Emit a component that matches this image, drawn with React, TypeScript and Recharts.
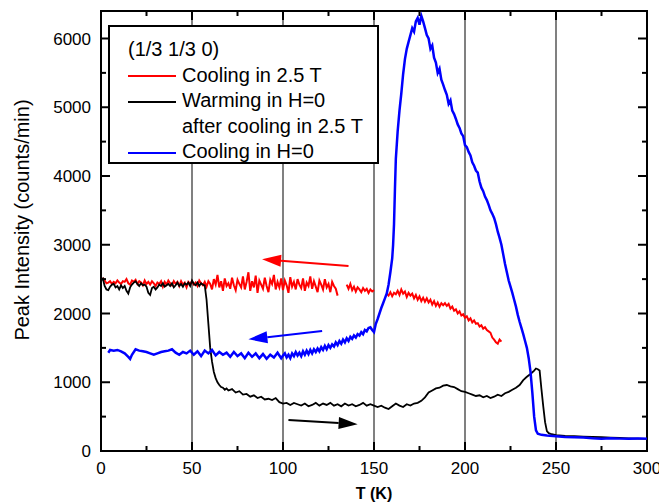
import React from "react";
import {
  LineChart,
  Line,
  XAxis,
  YAxis,
  ReferenceLine,
  ReferenceArea,
} from "recharts";

// (1/3 1/3 0) peak intensity vs temperature
const xTicks = [0, 25, 50, 75, 100, 125, 150, 175, 200, 225, 250, 275, 300];
const yTicks = [0, 500, 1000, 1500, 2000, 2500, 3000, 3500, 4000, 4500, 5000, 5500, 6000];
const gridTemps = [50, 100, 150, 200, 250];

const seriesNames = ["Cooling in 2.5 T", "Warming in H=0", "Cooling in H=0"];
const seriesColors = ["#ff0000", "#000000", "#0000ff"];
const legendTitle = "(1/3 1/3 0)";
const warmingNote = "after cooling in 2.5 T";

// [T (K), counts/min]
const coolingField: [number, number | null][] = [
  [1, 2520], [2, 2480], [3, 2440], [4, 2450], [5, 2470], [6, 2430], [7, 2460], [8, 2440], [9, 2480], [10, 2450],
  [11, 2430], [12, 2470], [13, 2460], [14, 2500], [15, 2440], [16, 2420], [17, 2480], [18, 2460], [19, 2490], [20, 2430],
  [21, 2470], [22, 2450], [23, 2410], [24, 2480], [25, 2430], [26, 2460], [27, 2420], [28, 2470], [29, 2440], [30, 2400],
  [31, 2450], [32, 2430], [33, 2470], [34, 2390], [35, 2460], [36, 2420], [37, 2480], [38, 2440], [39, 2410], [40, 2470],
  [41, 2430], [42, 2460], [43, 2400], [44, 2470], [45, 2420], [46, 2450], [47, 2380], [48, 2460], [49, 2430], [50, 2470],
  [51, 2420], [52, 2450], [53, 2400], [54, 2480], [55, 2440], [56, 2410], [57, 2460], [58, 2390], [59, 2470], [60, 2430],
  [61, 2350], [62, 2500], [63, 2420], [64, 2560], [65, 2380], [66, 2470], [67, 2330], [68, 2510], [69, 2400], [70, 2440],
  [71, 2360], [72, 2520], [73, 2410], [74, 2340], [75, 2490], [76, 2430], [77, 2380], [78, 2540], [79, 2350], [80, 2460],
  [81, 2600], [82, 2330], [83, 2470], [84, 2380], [85, 2550], [86, 2300], [87, 2480], [88, 2420], [89, 2360], [90, 2520],
  [91, 2400], [92, 2310], [93, 2490], [94, 2430], [95, 2560], [96, 2350], [97, 2460], [98, 2380], [99, 2510], [100, 2340],
  [101, 2480], [102, 2410], [103, 2300], [104, 2530], [105, 2390], [106, 2460], [107, 2350], [108, 2500], [109, 2420], [110, 2370],
  [111, 2510], [112, 2330], [113, 2450], [114, 2400], [115, 2540], [116, 2360], [117, 2470], [118, 2390], [119, 2310], [120, 2480],
  [121, 2420], [122, 2350], [123, 2500], [124, 2380], [125, 2430], [126, 2310], [127, 2460], [128, 2400], [129, 2360], [130, 2260],
  [132, null],
  [135, 2420], [136, 2360], [137, 2430], [138, 2340], [139, 2390], [140, 2320], [141, 2380], [142, 2350], [143, 2310], [144, 2370],
  [145, 2330], [146, 2360], [147, 2300], [148, 2350], [149, 2320], [150, 2340],
  [153, null],
  [157, 2290], [158, 2260], [159, 2310], [160, 2250], [161, 2300], [162, 2280], [163, 2330], [164, 2270], [165, 2350], [166, 2290],
  [167, 2320], [168, 2240], [169, 2300], [170, 2260], [171, 2290], [172, 2220], [173, 2270], [174, 2200], [175, 2250], [176, 2180],
  [177, 2230], [178, 2170], [179, 2220], [180, 2160], [181, 2200], [182, 2130], [183, 2180], [184, 2110], [185, 2160], [186, 2100],
  [187, 2150], [188, 2120], [189, 2150], [190, 2110], [191, 2140], [192, 2070], [193, 2100], [194, 2040], [195, 2060], [196, 2000],
  [197, 2030], [198, 1970], [199, 1990], [200, 1940], [201, 1960], [202, 1900], [203, 1930], [204, 1870], [205, 1900], [206, 1850],
  [207, 1860], [208, 1810], [209, 1830], [210, 1780], [211, 1800], [212, 1760], [213, 1740], [214, 1720], [215, 1650], [216, 1620],
  [217, 1580], [218, 1560], [219, 1620], [220, 1590],
];

const warmingZero: [number, number][] = [
  [0, 2490], [1, 2510], [2, 2400], [3, 2350], [4, 2340], [5, 2390], [6, 2420], [7, 2430], [8, 2380], [9, 2400],
  [10, 2350], [11, 2410], [12, 2370], [13, 2400], [14, 2330], [15, 2290], [16, 2380], [17, 2420], [18, 2450], [19, 2470],
  [20, 2430], [21, 2400], [22, 2440], [23, 2410], [24, 2420], [25, 2390], [26, 2300], [27, 2270], [28, 2370], [29, 2390],
  [30, 2350], [31, 2380], [32, 2420], [33, 2400], [34, 2440], [35, 2390], [36, 2410], [37, 2430], [38, 2400], [39, 2440],
  [40, 2380], [41, 2410], [42, 2450], [43, 2400], [44, 2430], [45, 2390], [46, 2440], [47, 2420], [48, 2450], [49, 2400],
  [50, 2480], [51, 2430], [52, 2410], [53, 2450], [54, 2400], [55, 2440], [56, 2420], [57, 2410], [58, 2200], [59, 1850],
  [60, 1500], [61, 1300], [62, 1150], [63, 1060], [64, 1000], [65, 960], [66, 930], [67, 920], [68, 890], [69, 910], [70, 880],
  [72, 900], [74, 850], [76, 870], [78, 820], [80, 830], [82, 790], [84, 810], [86, 770], [88, 790], [90, 750],
  [92, 760], [94, 740], [96, 770], [98, 710], [100, 690], [102, 700], [104, 670], [106, 700], [108, 680], [110, 660],
  [112, 690], [114, 650], [116, 670], [118, 700], [120, 660], [122, 690], [124, 670], [126, 700], [128, 660], [130, 680],
  [132, 650], [134, 690], [136, 660], [138, 680], [140, 650], [142, 670], [144, 700], [146, 660], [148, 680], [150, 660],
  [152, 640], [154, 660], [156, 630], [158, 610], [160, 650], [162, 690], [164, 660], [166, 640], [168, 680], [170, 660],
  [172, 690], [174, 700], [176, 730], [178, 780], [180, 850], [182, 880], [184, 910], [186, 920], [188, 950], [190, 960],
  [192, 940], [194, 930], [196, 900], [198, 870], [200, 860], [202, 840], [204, 820], [206, 800], [208, 810], [210, 780],
  [212, 800], [214, 770], [216, 790], [218, 820], [220, 800], [222, 840], [224, 860], [226, 890], [228, 920], [230, 960],
  [232, 1030], [234, 1080], [236, 1120], [238, 1170], [239, 1200], [240, 1190], [241, 1170], [242, 900], [243, 650], [244, 420],
  [245, 290], [246, 260], [247, 250], [250, 230], [255, 220], [260, 215], [265, 210], [270, 205], [275, 200], [280, 195],
  [285, 190], [290, 185], [295, 180], [300, 175],
];

const coolingZero: [number, number][] = [
  [4, 1430], [5, 1470], [7, 1460], [9, 1470], [11, 1450], [13, 1420], [15, 1370], [16, 1340], [17, 1400], [19, 1480],
  [21, 1460], [23, 1450], [25, 1440], [27, 1420], [29, 1400], [31, 1420], [33, 1440], [35, 1450], [37, 1460], [39, 1480],
  [41, 1430], [43, 1400], [45, 1440], [47, 1420], [49, 1460], [51, 1400], [53, 1450], [55, 1380], [57, 1460], [59, 1420],
  [61, 1470], [63, 1390], [65, 1440], [67, 1400], [69, 1430], [71, 1370], [73, 1440], [75, 1380], [77, 1420], [79, 1350],
  [81, 1430], [83, 1370], [85, 1420], [87, 1350], [89, 1410], [91, 1340], [93, 1400], [95, 1360], [97, 1430], [99, 1350],
  [100, 1390], [101, 1420], [102, 1360], [103, 1400], [104, 1350], [105, 1420], [106, 1380], [107, 1440], [108, 1390], [109, 1430],
  [110, 1380], [111, 1450], [112, 1400], [113, 1460], [114, 1410], [115, 1470], [116, 1420], [117, 1480], [118, 1440], [119, 1490],
  [120, 1450], [121, 1510], [122, 1470], [123, 1530], [124, 1480], [125, 1540], [126, 1500], [127, 1550], [128, 1520], [129, 1580],
  [130, 1540], [131, 1600], [132, 1560], [133, 1620], [134, 1580], [135, 1640], [136, 1600], [137, 1660], [138, 1630], [139, 1680],
  [140, 1650], [141, 1700], [142, 1680], [143, 1730], [144, 1700], [145, 1760], [146, 1740], [147, 1790], [148, 1800], [149, 1760],
  [150, 1730], [151, 1850], [152, 1920], [153, 2000], [154, 2080], [155, 2150], [156, 2220], [157, 2290], [158, 2420], [159, 2600],
  [160, 2800], [160.5, 3000], [161, 3300], [161.5, 3800], [162, 4250], [163, 4650], [164, 4950], [165, 5200], [166, 5480], [167, 5700],
  [168, 5850], [169, 5950], [170, 6050], [171, 6150], [172, 6100], [173, 6250], [174, 6300], [175, 6200], [176, 6330], [177, 6250],
  [178, 6150], [179, 6050], [180, 6000], [181, 5850], [182, 5900], [183, 5720], [184, 5650], [185, 5500], [186, 5560], [187, 5400],
  [188, 5330], [189, 5250], [190, 5180], [191, 5050], [192, 5100], [193, 4950], [194, 4900], [195, 4830], [196, 4750], [197, 4700],
  [198, 4620], [199, 4580], [200, 4450], [201, 4420], [202, 4350], [203, 4300], [204, 4200], [205, 4150], [206, 4080], [207, 4050],
  [208, 3920], [209, 3830], [210, 3780], [211, 3700], [212, 3650], [213, 3580], [214, 3500], [215, 3450], [216, 3390], [217, 3300],
  [218, 3190], [219, 3100], [220, 3000], [221, 2860], [222, 2720], [223, 2600], [224, 2480], [225, 2390], [226, 2300], [227, 2200],
  [228, 2100], [229, 1980], [230, 1880], [231, 1790], [232, 1700], [233, 1600], [234, 1500], [235, 1350], [236, 1150], [237, 850],
  [238, 500], [239, 300], [240, 250], [242, 235], [245, 225], [250, 215], [255, 205], [260, 200], [265, 195], [270, 185],
  [275, 180], [280, 185], [285, 180], [290, 178], [295, 182], [300, 180],
];

// arrows: [tail, tip] as [T, counts]
const arrowCoolField = [[136, 2690], [88.5, 2790]];
const arrowCoolZero = [[121.5, 1745], [81, 1625]];
const arrowWarm = [[103, 450], [141, 390]];

const toRows = (pts: [number, number | null][]) => pts.map(([t, i]) => ({ t, i }));

const FONT = 'Arial, "Liberation Sans", sans-serif';
const PLOT_W = 546;
const PLOT_H = 440;

const XTick = (props: any) => {
  const { x, y, payload } = props;
  const v = payload.value;
  const major = v % 50 === 0;
  const len = major ? 9 : 5;
  return (
    <g>
      <line x1={x} y1={y} x2={x} y2={y - len} stroke="#000" strokeWidth={2} />
      <line x1={x} y1={y - PLOT_H} x2={x} y2={y - PLOT_H + len} stroke="#000" strokeWidth={2} />
      {major && (
        <text x={x} y={y + 23} textAnchor="middle" fontSize={17} fontFamily={FONT} fill="#000">
          {v}
        </text>
      )}
    </g>
  );
};

const YTick = (props: any) => {
  const { x, y, payload } = props;
  const v = payload.value;
  const major = v % 1000 === 0;
  const len = major ? 9 : 5;
  return (
    <g>
      <line x1={x} y1={y} x2={x + len} y2={y} stroke="#000" strokeWidth={2} />
      <line x1={x + PLOT_W} y1={y} x2={x + PLOT_W - len} y2={y} stroke="#000" strokeWidth={2} />
      {major && (
        <text x={x - 10} y={y + 6} textAnchor="end" fontSize={17} fontFamily={FONT} fill="#000">
          {v}
        </text>
      )}
    </g>
  );
};

const XLabel = () => (
  <text x={374} y={499} textAnchor="middle" fontSize={16} fontWeight="bold" fontFamily={FONT} fill="#000">
    T (K)
  </text>
);

const YLabel = () => (
  <text x={29} y={220} transform="rotate(-90, 29, 220)" textAnchor="middle" fontSize={20} fontFamily={FONT} fill="#000">
    Peak Intensity (counts/min)
  </text>
);

const makeArrow = (color: string) => (props: any) => {
  const { x1, y1, x2, y2 } = props;
  const ang = Math.atan2(y2 - y1, x2 - x1);
  const headLen = 19;
  const headHalf = 6;
  const bx = x2 - headLen * Math.cos(ang);
  const by = y2 - headLen * Math.sin(ang);
  const px = -Math.sin(ang) * headHalf;
  const py = Math.cos(ang) * headHalf;
  return (
    <g>
      <line x1={x1} y1={y1} x2={bx} y2={by} stroke={color} strokeWidth={2} />
      <polygon points={`${x2},${y2} ${bx + px},${by + py} ${bx - px},${by - py}`} fill={color} />
    </g>
  );
};

const LegendBox = () => {
  const sample = (c: string) => (
    <span style={{ display: "inline-block", width: 48, height: 2, background: c, verticalAlign: "middle", marginRight: 6 }} />
  );
  const spacer = <span style={{ display: "inline-block", width: 48, marginRight: 6 }} />;
  return (
    <div
      style={{
        position: "absolute",
        left: 108,
        top: 25,
        boxSizing: "border-box",
        width: 271,
        height: 139,
        border: "2px solid #000",
        background: "#fff",
        padding: "10px 0 0 18px",
        fontFamily: FONT,
        fontSize: 20,
        lineHeight: "25.5px",
        color: "#000",
        whiteSpace: "nowrap",
      }}
    >
      <div>{legendTitle}</div>
      <div>{sample(seriesColors[0])}{seriesNames[0]}</div>
      <div>{sample(seriesColors[1])}{seriesNames[1]}</div>
      <div>{spacer}{warmingNote}</div>
      <div>{sample(seriesColors[2])}{seriesNames[2]}</div>
    </div>
  );
};

export default function App() {
  return (
    <div style={{ position: "absolute", left: 0, top: 0, width: 659, height: 502, background: "#fff" }}>
      <LineChart width={659} height={502} margin={{ top: 11, right: 12, bottom: 21, left: 41 }}>
        <XAxis
          dataKey="t"
          type="number"
          domain={[0, 300]}
          ticks={xTicks}
          interval={0}
          tickSize={0}
          tickMargin={0}
          tick={<XTick />}
          axisLine={{ stroke: "#000", strokeWidth: 2 }}
          tickLine={false}
          allowDuplicatedCategory={false}
          label={<XLabel />}
        />
        <YAxis
          type="number"
          domain={[0, 6400]}
          ticks={yTicks}
          interval={0}
          tickSize={0}
          tickMargin={0}
          tick={<YTick />}
          axisLine={{ stroke: "#000", strokeWidth: 2 }}
          tickLine={false}
          width={60}
          label={<YLabel />}
        />
        {gridTemps.map((g) => (
          <ReferenceLine key={g} x={g} stroke="#808080" strokeWidth={2} />
        ))}
        <Line
          data={toRows(coolingField)}
          dataKey="i"
          stroke={seriesColors[0]}
          strokeWidth={2}
          dot={false}
          isAnimationActive={false}
          name={seriesNames[0]}
        />
        <Line
          data={toRows(warmingZero)}
          dataKey="i"
          stroke={seriesColors[1]}
          strokeWidth={1.8}
          dot={false}
          isAnimationActive={false}
          name={seriesNames[1]}
        />
        <Line
          data={toRows(coolingZero)}
          dataKey="i"
          stroke={seriesColors[2]}
          strokeWidth={2.5}
          dot={false}
          isAnimationActive={false}
          name={seriesNames[2]}
        />
        <ReferenceLine
          segment={[{ x: arrowCoolField[0][0], y: arrowCoolField[0][1] }, { x: arrowCoolField[1][0], y: arrowCoolField[1][1] }]}
          shape={makeArrow(seriesColors[0])}
        />
        <ReferenceLine
          segment={[{ x: arrowCoolZero[0][0], y: arrowCoolZero[0][1] }, { x: arrowCoolZero[1][0], y: arrowCoolZero[1][1] }]}
          shape={makeArrow(seriesColors[2])}
        />
        <ReferenceLine
          segment={[{ x: arrowWarm[0][0], y: arrowWarm[0][1] }, { x: arrowWarm[1][0], y: arrowWarm[1][1] }]}
          shape={makeArrow(seriesColors[1])}
        />
        <ReferenceArea x1={0} x2={300} y1={0} y2={6400} fill="none" stroke="#000" strokeWidth={2} fillOpacity={0} />
      </LineChart>
      <LegendBox />
    </div>
  );
}
